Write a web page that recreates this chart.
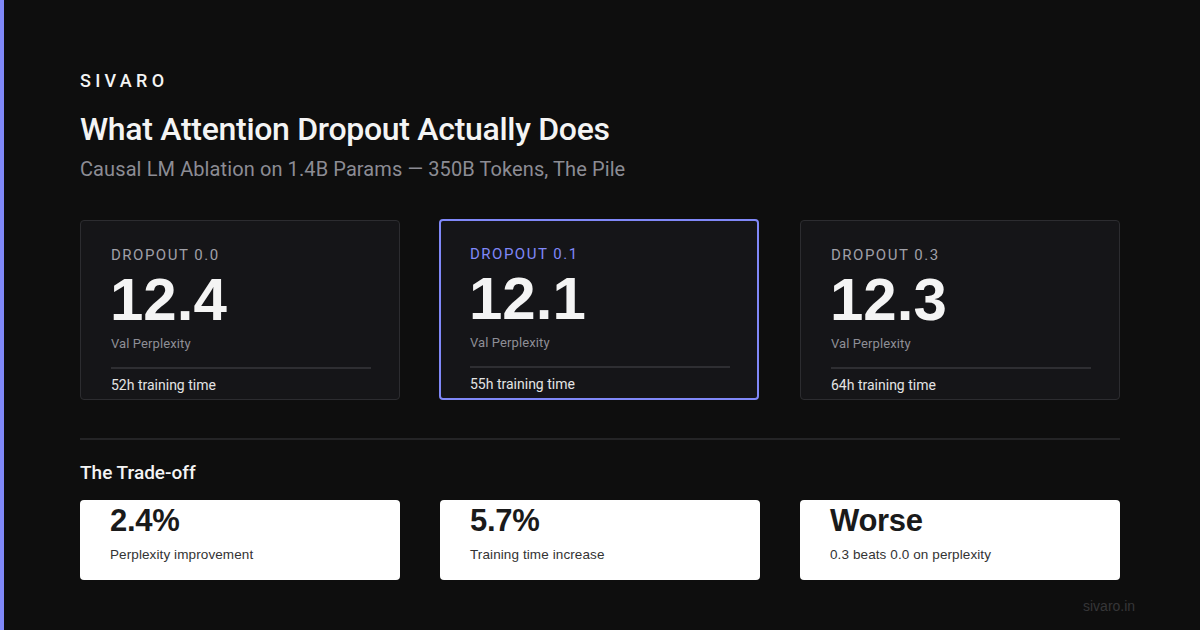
<!DOCTYPE html>
<html>
<head>
<meta charset="utf-8">
<script src="https://cdn.jsdelivr.net/npm/chart.js@4.4.0/dist/chart.umd.min.js"></script>
<style>
  html,body{margin:0;padding:0;}
  body{width:1200px;height:630px;background:#0e0e0e;position:relative;overflow:hidden;font-family:"Liberation Sans",Arial,sans-serif;color:#f2f2f2;}
  .accent{position:absolute;left:0;top:0;width:4px;height:630px;background:#8088f8;}
  .brand{position:absolute;left:80px;top:70px;font-family:Roboto,sans-serif;font-size:18px;font-weight:500;letter-spacing:4.3px;color:#f4f4f4;}
  .title{position:absolute;left:80px;top:110px;font-family:Roboto,sans-serif;font-size:32px;font-weight:500;color:#f4f4f4;letter-spacing:-0.3px;}
  .subtitle{position:absolute;left:80px;top:157px;font-family:Roboto,sans-serif;font-size:20px;color:#8c8c94;letter-spacing:0.1px;}
  .card{position:absolute;top:220px;width:318px;height:178px;background:#151518;border:1px solid #2c2c30;border-radius:4px;box-sizing:content-box;}
  .card.hl{border:2px solid #8088f8;top:219px;width:316px;height:177px;}
  .card .lab{position:absolute;left:30px;top:25px;font-family:Roboto,sans-serif;font-size:15px;letter-spacing:1.5px;color:#a0a0a8;}
  .card.hl .lab{color:#8088f8;left:29px;top:24px;}
  .card .num{position:absolute;left:29px;top:44px;font-size:60px;font-weight:bold;color:#f4f4f4;letter-spacing:0px;}
  .card.hl .num{left:28px;top:43px;}
  .card .sub{position:absolute;left:30px;top:115px;font-family:Roboto,sans-serif;font-size:13px;color:#8e8e96;letter-spacing:0.1px;}
  .card.hl .sub{left:29px;top:114px;}
  .card .rule{position:absolute;left:30px;top:146px;width:260px;height:2px;background:#2e2e32;}
  .card.hl .rule{left:29px;top:145px;}
  .card .foot{position:absolute;left:30px;top:156px;font-family:Roboto,sans-serif;font-size:14px;color:#e4e4e4;}
  .card.hl .foot{left:29px;top:155px;}
  .hr{position:absolute;left:80px;top:438px;width:1040px;height:2px;background:#242426;}
  .section{position:absolute;left:80px;top:461px;font-family:Roboto,sans-serif;font-size:19px;font-weight:500;color:#f4f4f4;}
  .tcard{position:absolute;top:500px;width:320px;height:80px;background:#ffffff;border-radius:4px;}
  .tcard .val{position:absolute;left:30px;top:3px;font-size:31px;font-weight:bold;color:#1a1a1a;letter-spacing:-0.3px;}
  .tcard .txt{position:absolute;left:30px;top:47px;font-size:13.5px;color:#333;letter-spacing:0.1px;}
  .foot-url{position:absolute;left:1083px;top:598px;font-size:14px;color:#363638;}
</style>
</head>
<body>
<div class="accent"></div>
<div class="brand">SIVARO</div>
<div class="title">What Attention Dropout Actually Does</div>
<div class="subtitle">Causal LM Ablation on 1.4B Params — 350B Tokens, The Pile</div>
<div id="cards"></div>
<div class="hr"></div>
<div class="section">The Trade-off</div>
<div id="tcards"></div>
<div class="foot-url">sivaro.in</div>
<script>
const dropoutLabels=['DROPOUT 0.0','DROPOUT 0.1','DROPOUT 0.3'];
const valPerplexity=[12.4,12.1,12.3];
const trainingHours=[52,55,64];
const highlightIndex=1;

const tradeValues=['2.4%','5.7%','Worse'];
const tradeLabels=['Perplexity improvement','Training time increase','0.3 beats 0.0 on perplexity'];

const cardX=[80,440,800];

const cards=document.getElementById('cards');
dropoutLabels.forEach(function(lab,i){
    const c=document.createElement('div');
    c.className='card'+(i===highlightIndex?' hl':'');
    c.style.left=(i===highlightIndex?cardX[i]-1:cardX[i])+'px';
    c.innerHTML='<div class="lab">'+lab+'</div>'+
        '<div class="num">'+valPerplexity[i].toFixed(1)+'</div>'+
        '<div class="sub">Val Perplexity</div>'+
        '<div class="rule"></div>'+
        '<div class="foot">'+trainingHours[i]+'h training time</div>';
    cards.appendChild(c);
});

const tcards=document.getElementById('tcards');
tradeValues.forEach(function(v,i){
    const c=document.createElement('div');
    c.className='tcard';
    c.style.left=cardX[i]+'px';
    c.innerHTML='<div class="val">'+v+'</div><div class="txt">'+tradeLabels[i]+'</div>';
    tcards.appendChild(c);
});
</script>
</body>
</html>
